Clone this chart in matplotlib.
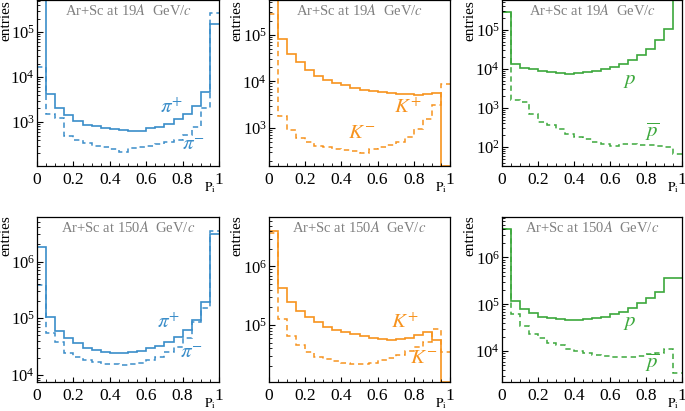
import numpy as np
import matplotlib
matplotlib.use("Agg")
import matplotlib.pyplot as plt
from matplotlib.ticker import LogLocator, LogFormatterMathtext, MultipleLocator, NullFormatter, FuncFormatter

plt.rcParams['font.family'] = ['Liberation Serif', 'DejaVu Serif']
plt.rcParams['mathtext.fontset'] = 'stix'

# bins in P_i^1
edges = np.linspace(0, 1, 21)

# Ar+Sc at 19A GeV/c
pi19_pos = [5.06e5, 4100, 2090, 1410, 1050, 875, 800, 725, 690, 655,
            640, 645, 735, 780, 920, 1150, 1480, 2310, 4730, 1.5e5]
pi19_neg = [1.67e4, 1480, 1250, 480, 390, 340, 300, 280, 250, 215,
            270, 280, 295, 330, 360, 400, 505, 770, 2050, 2.6e5]
k19_pos = [5.4e5, 8.2e4, 3.9e4, 2.6e4, 1.78e4, 1.32e4, 1.09e4, 9370, 8200, 7310,
           6620, 6200, 5810, 5530, 5350, 5260, 5090, 5350, 5620, 0]
k19_neg = [2.8e5, 1780, 920, 620, 500, 411, 392, 355, 333, 327,
           296, 349, 385, 440, 500, 641, 936, 1530, 3060, 8900]
p19 = [2.84e5, 1.3e4, 1.05e4, 9690, 8600, 8130, 7810, 7510, 7660, 8130,
       8800, 9890, 11350, 13500, 17100, 22900, 32700, 53400, 1.06e5, 5.6e5]
pbar19 = [2.84e5, 1560, 1420, 713, 436, 358, 294, 219, 180, 163,
          134, 122, 106, 117, 122, 115, 110, 106, 100, 65]

# Ar+Sc at 150A GeV/c
pi150_pos = [1.84e6, 1.07e5, 5.97e4, 4.44e4, 3.62e4, 3.04e4, 2.72e4, 2.58e4, 2.41e4, 2.41e4,
             2.51e4, 2.69e4, 2.95e4, 3.3e4, 3.87e4, 4.75e4, 6.2e4, 9.3e4, 1.91e5, 3.03e6]
pi150_neg = [3.87e5, 5.43e4, 3.87e4, 2.41e4, 2.11e4, 1.84e4, 1.72e4, 1.58e4, 1.54e4, 1.5e4,
             1.54e4, 1.63e4, 1.82e4, 2.1e4, 2.58e4, 3.16e4, 4.56e4, 8.5e4, 1.54e5, 3.4e6]
k150_pos = [4.08e6, 4.25e5, 2.45e5, 1.74e5, 1.35e5, 1.11e5, 9.36e4, 8.2e4, 7.48e4, 6.92e4,
            6.48e4, 6.07e4, 5.75e4, 5.53e4, 5.7e4, 6.07e4, 6.74e4, 7.69e4, 5.53e4, 0]
k150_neg = [3.73e6, 1.27e5, 6.57e4, 4.54e4, 3.49e4, 2.87e4, 2.61e4, 2.41e4, 2.2e4, 2.14e4,
            2.14e4, 2.26e4, 2.51e4, 2.75e4, 3.06e4, 3.58e4, 4.25e4, 5.18e4, 8.54e4, 3.49e4]
p150 = [4.05e6, 1.18e5, 7.94e4, 6.41e4, 5.44e4, 5.01e4, 4.85e4, 4.62e4, 4.62e4, 4.77e4,
        5.01e4, 5.44e4, 6.1e4, 6.96e4, 8.48e4, 1.05e5, 1.34e5, 1.81e5, 3.73e5, 3.6e5]
pbar150 = [4.05e6, 6.1e4, 3.49e4, 2.28e4, 1.87e4, 1.53e4, 1.34e4, 1.14e4, 1e4, 9060,
           8340, 7940, 7560, 7560, 7700, 7940, 8500, 9360, 1.14e4, 3500]

blue = '#3a8dc9'
orange = '#f7931e'
green = '#3ca83c'

W, H = 685, 411
fig = plt.figure(figsize=(W / 100, H / 100), dpi=100)

cols = [(37, 219), (269, 450), (502, 682)]
rows = [(0.5, 166), (217, 382)]


def panel(col, row, pos, neg, color, ylim, labels, pos_xy, neg_xy, energy):
    x0, x1 = cols[col]
    y0, y1 = rows[row]
    ax = fig.add_axes([x0 / W, (H - y1) / H, (x1 - x0) / W, (y1 - y0) / H])
    ax.set_yscale('log')
    ax.set_xlim(0, 1)
    ax.set_ylim(*ylim)

    pos = np.array(pos, float)
    neg = np.array(neg, float)
    ax.stairs(np.where(neg > 0, neg, ylim[0]), edges, baseline=None,
              color=color, lw=1.1, ls=(0, (3.5, 2.5)))
    ax.stairs(np.where(pos > 0, pos, ylim[0]), edges, baseline=None,
              color=color, lw=1.2)

    ax.text(pos_xy[0], pos_xy[1], labels[0], color=color, fontsize=15,
            ha='center', va='center', transform=ax.transAxes)
    ax.text(neg_xy[0], neg_xy[1], labels[1], color=color, fontsize=15,
            ha='center', va='center', transform=ax.transAxes)

    ax.text(0.5, 1 - 10 / (y1 - y0), f'Ar+Sc at {energy}$A$  GeV/$c$',
            color='#808080', fontsize=10.5, ha='center', va='center',
            transform=ax.transAxes)

    ax.xaxis.set_major_locator(MultipleLocator(0.2))
    ax.xaxis.set_minor_locator(MultipleLocator(0.05))
    ax.xaxis.set_major_formatter(FuncFormatter(lambda v, p: f'{v:g}'))
    ax.yaxis.set_major_locator(LogLocator(base=10))
    ax.yaxis.set_minor_locator(LogLocator(base=10, subs=np.arange(2, 10)))
    ax.yaxis.set_major_formatter(LogFormatterMathtext())
    ax.yaxis.set_minor_formatter(NullFormatter())
    ax.tick_params(which='both', direction='in', top=False, right=False)
    ax.tick_params(axis='x', which='major', length=3.5, labelsize=12.5, pad=4)
    ax.tick_params(axis='x', which='minor', length=2.2)
    ax.tick_params(axis='y', which='major', length=4.3, labelsize=12, pad=1.5)
    ax.tick_params(axis='y', which='minor', length=2.2)
    for s in ax.spines.values():
        s.set_linewidth(0.9)

    ax.annotate(r'$\mathrm{P}_{\mathrm{i}}$', xy=(0.985, 0), xycoords='axes fraction',
                xytext=(0, -10), textcoords='offset points',
                ha='right', va='top', fontsize=9.5)
    fig.text(max(x0 - 32, 6) / W, (H - y0 + 2) / H if row == 1 else 1.0, 'entries',
             rotation=90, ha='center', va='top', fontsize=11)
    return ax


pi_lab = (r'$\pi^{+}$', r'$\pi^{-}$')
k_lab = (r'$K^{+}$', r'$K^{-}$')
p_lab = (r'$p$', r'$\overline{p}$')

panel(0, 0, pi19_pos, pi19_neg, blue, (105, 5.06e5), pi_lab, (0.742, 0.349), (0.857, 0.125), 19)
panel(1, 0, k19_pos, k19_neg, orange, (153, 5.4e5), k_lab, (0.768, 0.349), (0.514, 0.199), 19)
panel(2, 0, p19, pbar19, green, (32.6, 5.6e5), p_lab, (0.711, 0.518), (0.833, 0.205), 19)
panel(0, 1, pi150_pos, pi150_neg, blue, (7.5e3, 6.1e6), pi_lab, (0.725, 0.358), (0.846, 0.17), 150)
panel(1, 1, k150_pos, k150_neg, orange, (1.06e4, 7e6), k_lab, (0.751, 0.358), (0.856, 0.145), 150)
panel(2, 1, p150, pbar150, green, (2.2e3, 7.3e6), p_lab, (0.711, 0.358), (0.833, 0.115), 150)

fig.savefig('out.png', dpi=100)
